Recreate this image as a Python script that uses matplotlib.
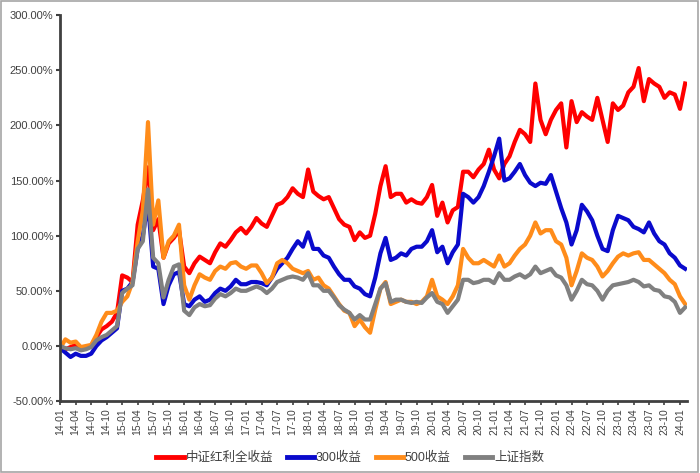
import matplotlib
matplotlib.use("Agg")
import matplotlib.pyplot as plt
import matplotlib.patches as patches
import numpy as np

plt.rcParams['font.family'] = ['Liberation Sans', 'Noto Sans CJK SC']

# monthly readings, 2014-01 .. 2024-02 (percent)
dividend = [0, -3, -1, 1, -2, -2, 0, 8, 15, 18, 22, 30,
            64, 62, 58, 110, 132, 162, 105, 115, 80, 93, 98, 105,
            72, 66, 75, 81, 78, 75, 85, 93, 90, 96, 103, 107,
            102, 108, 116, 111, 108, 118, 128, 130, 135, 143, 138, 135,
            160, 140, 136, 133, 135, 125, 115, 110, 108, 96, 103, 98,
            100, 120, 145, 163, 135, 138, 138, 130, 133, 130, 129, 135,
            146, 118, 130, 112, 123, 126, 158, 158, 153, 160, 165, 178,
            160, 152, 165, 172, 185, 196, 192, 185, 238, 205, 192, 205,
            214, 220, 180, 222, 203, 212, 208, 205, 225, 205, 185, 220,
            214, 218, 230, 235, 252, 222, 242, 238, 235, 225, 230, 228,
            215, 238]
csi300 = [-2, -6, -10, -7, -9, -9, -7, 0, 5, 8, 12, 16,
          50, 52, 58, 88, 100, 130, 72, 70, 38, 55, 65, 67,
          38, 36, 42, 45, 40, 42, 48, 52, 50, 54, 60, 56,
          56, 58, 58, 57, 55, 62, 70, 75, 80, 88, 95, 90,
          103, 88, 88, 82, 80, 72, 65, 60, 60, 54, 52, 47,
          45, 62, 84, 98, 78, 80, 84, 82, 88, 90, 90, 95,
          105, 85, 90, 75, 85, 92, 138, 135, 130, 135, 145, 158,
          172, 188, 150, 152, 158, 165, 155, 148, 145, 148, 147, 155,
          140, 125, 112, 92, 105, 128, 122, 114, 100, 88, 86, 105,
          118, 116, 114, 108, 106, 103, 112, 102, 95, 92, 84, 80,
          73, 70]
csi500 = [-2, 6, 3, 4, -1, 0, 1, 10, 22, 30, 30, 32,
          40, 45, 58, 95, 123, 203, 110, 132, 80, 95, 100, 110,
          55, 42, 55, 65, 62, 60, 68, 72, 70, 75, 76, 72,
          70, 73, 73, 66, 57, 62, 75, 78, 75, 70, 68, 66,
          68, 60, 62, 55, 52, 45, 38, 32, 30, 18, 24, 17,
          12, 33, 52, 58, 38, 40, 42, 40, 40, 38, 40, 45,
          60, 45, 42, 38, 45, 55, 88, 80, 75, 75, 78, 75,
          72, 82, 72, 75, 82, 88, 92, 100, 112, 102, 105, 105,
          95, 92, 80, 55, 68, 84, 80, 78, 72, 63, 68, 75,
          81, 84, 82, 84, 85, 78, 78, 74, 70, 66, 60, 56,
          45, 38]
shanghai = [0, -2, -3, -2, -4, -3, -1, 5, 8, 10, 14, 18,
            48, 52, 55, 88, 95, 142, 80, 75, 44, 60, 72, 74,
            32, 28, 35, 38, 36, 37, 43, 47, 45, 48, 52, 50,
            50, 52, 54, 52, 48, 52, 58, 60, 62, 63, 62, 60,
            66, 55, 55, 50, 50, 44, 37, 33, 30, 24, 28, 24,
            24, 38, 52, 57, 40, 42, 42, 40, 39, 40, 39, 44,
            48, 40, 38, 30, 36, 42, 60, 60, 57, 58, 60, 60,
            57, 66, 60, 60, 63, 65, 62, 65, 72, 66, 68, 70,
            64, 62, 55, 42, 50, 60, 56, 55, 50, 42, 50, 55,
            56, 57, 58, 60, 58, 54, 55, 51, 50, 45, 44, 40,
            30, 35]

names = ['中证红利全收益', '300收益', '500收益', '上证指数']
colors = ['#FF0000', '#0A0ACC', '#FF8C1A', '#808080']
tick_labels = [f"{y:02d}-{m:02d}" for y in range(14, 25) for m in (1, 4, 7, 10)][:41]

fig = plt.figure(figsize=(7, 4.73), dpi=100)
ax = fig.add_axes([0.086, 0.152, 0.895, 0.816])

x = np.arange(len(dividend))
for vals, name, c in zip([dividend, csi300, csi500, shanghai], names, colors):
    ax.plot(x, vals, color=c, lw=3, label=name, solid_joinstyle='round')

ax.set_xlim(0, 121.3)
ax.set_ylim(-50, 300)
ax.set_yticks(np.arange(-50, 301, 50))
ax.set_yticklabels([f"{v:.2f}%" for v in np.arange(-50, 301, 50)])
ax.set_xticks(np.arange(0, 121, 3))
ax.set_xticklabels(tick_labels, rotation=90)
ax.tick_params(axis='y', labelsize=8, colors='#404040', length=3, width=1.5, pad=2)
ax.tick_params(axis='x', labelsize=7.5, colors='#404040', length=3, width=1.2, pad=2)
for s in ['top', 'right']:
    ax.spines[s].set_visible(False)
for s in ['left', 'bottom']:
    ax.spines[s].set_linewidth(2)
    ax.spines[s].set_color('#404040')

leg = fig.legend(loc='center', bbox_to_anchor=(0.5, 0.032), ncol=4, frameon=False,
                 fontsize=9, handlelength=2.2, columnspacing=1.1, handletextpad=0.15,
                 labelcolor='#404040')
for h in leg.get_lines():
    h.set_linewidth(3.5)

fig.patches.append(patches.Rectangle((0.001, 0.003), 0.996, 0.994, transform=fig.transFigure,
                                     fill=False, ec='#a6a6a6', lw=1.2))

plt.savefig('out.png', dpi=100)
